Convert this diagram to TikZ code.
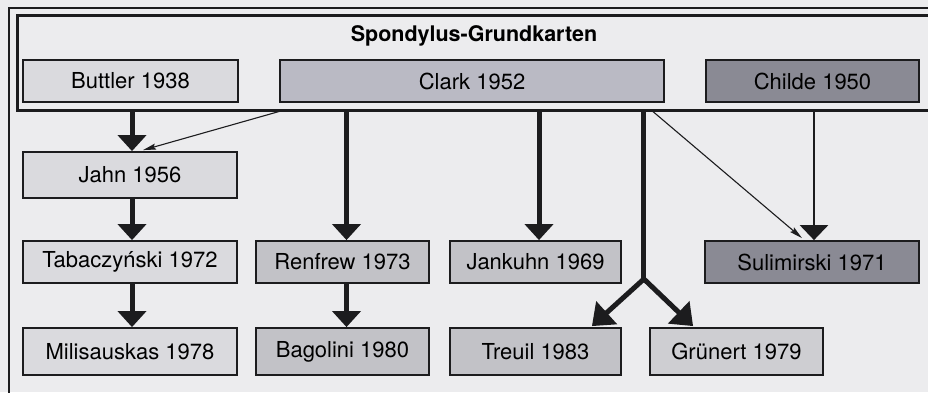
\documentclass[tikz,border=0pt]{standalone}
\usepackage{fontspec}
\setmainfont{TeX Gyre Heros}
\usetikzlibrary{arrows.meta, positioning, calc}
\definecolor{pagebg}{RGB}{236,236,238}
\definecolor{cardlight}{RGB}{218,218,222}
\definecolor{cardmid}{RGB}{194,194,199}
\definecolor{cardclark}{RGB}{186,186,196}
\definecolor{cardpale}{RGB}{206,206,210}
\definecolor{carddark}{RGB}{138,138,148}
\definecolor{inkdark}{RGB}{28,28,30}

\begin{document}
\begin{tikzpicture}[x=1pt, y=-1pt,
  card/.style      = {draw=inkdark, line width=1.8pt, inner sep=0pt,
                      minimum height=42pt, font=\fontsize{22}{26}\selectfont},
  lightcard/.style = {card, fill=cardlight},
  midcard/.style   = {card, fill=cardmid},
  darkcard/.style  = {card, fill=carddark},
  frame/.style     = {draw=inkdark, line width=3pt},
  bigarrow/.style  = {line width=5pt, draw=inkdark,
                      -{Triangle[length=16pt, width=28pt]}},
  forkarrow/.style = {line width=5pt, draw=inkdark, line join=round,
                      -{Triangle[length=20pt, width=30pt]}},
  midarrow/.style  = {line width=2.8pt, draw=inkdark,
                      -{Triangle[length=15pt, width=28pt]}},
  thinarrow/.style = {line width=1.1pt, draw=inkdark,
                      -{Stealth[length=13pt, width=6pt, inset=2pt]}},
]
\useasboundingbox (0,0) rectangle (928,392);
\clip (0,0) rectangle (928,392);
\fill[pagebg] (0,0) rectangle (928,392);

%% outer frame (runs off the page to the right and bottom)
\coordinate (outerbl) at (9,400);
\coordinate (outertl) at (9,8);
\coordinate (outertr) at (940,8);
\draw[inkdark, line width=2.6pt] (outerbl) -- (outertl) -- (outertr);

%% ==================== TOP: Spondylus-Grundkarten ====================
\node[frame, minimum width=923pt, minimum height=95pt, inner sep=0pt] (grund) at (478.5,62.5) {};
\node[font=\fontsize{21.5}{25}\selectfont\bfseries] (titel) at (474,36) {Spondylus-Grundkarten};

\node[lightcard, minimum width=215pt] (buttler) at (130.5,81) {Buttler 1938};
\node[card, fill=cardclark, minimum width=384pt] (clark) at (472,81) {Clark 1952};
\node[darkcard, minimum width=213pt] (childe) at (812.5,81) {Childe 1950};

%% ==================== LOWER ROWS ====================
\node[lightcard, minimum width=214pt, minimum height=46pt] (jahn) at (130,175) {Jahn 1956};
\node[lightcard, minimum width=214pt] (tabaczynski) at (130,262) {Tabaczyński 1972};
\node[lightcard, minimum width=214pt, minimum height=47pt] (milisauskas) at (130,351.5) {Milisauskas 1978};

\node[midcard, minimum width=173pt] (renfrew) at (342.5,262) {Renfrew 1973};
\node[midcard, minimum width=173pt, minimum height=47pt] (bagolini) at (342.5,351.5) {Bagolini 1980};

\node[midcard, minimum width=171pt] (jankuhn) at (535.5,262) {Jankuhn 1969};
\node[midcard, minimum width=171pt, minimum height=47pt] (treuil) at (535.5,351.5) {Treuil 1983};
\node[card, fill=cardpale, minimum width=173pt, minimum height=47pt] (gruenert) at (736.5,351.5) {Grünert 1979};

\node[darkcard, minimum width=214pt] (sulimirski) at (812,262) {Sulimirski 1971};

%% ==================== CONNECTORS ====================
\coordinate (jahntop) at ($(jahn.north)+(2,0)$);
\coordinate (renfrewtop) at ($(renfrew.north)+(4,0)$);
\coordinate (jankuhntop) at ($(jankuhn.north)+(3.5,0)$);
\coordinate (forktop) at ($(clark.south east)+(-21,0)$);
\coordinate (fork) at (forktop |- 0,279);
\coordinate (childetop) at ($(sulimirski.north)+(2,0)$);

\draw[bigarrow] (jahntop |- grund.south) -- (jahntop);
\draw[thinarrow] (clark.south west |- grund.south) -- ($(jahn.north)+(13,-1)$);
\draw[bigarrow] ($(jahn.south)+(2,0)$) -- ($(tabaczynski.north)+(2,0)$);
\draw[bigarrow] ($(tabaczynski.south)+(2,0)$) -- ($(milisauskas.north)+(2,0)$);

\draw[bigarrow] (renfrewtop |- grund.south) -- (renfrewtop);
\draw[bigarrow] ($(renfrew.south)+(4,0)$) -- ($(bagolini.north)+(4,0)$);

\draw[bigarrow] (jankuhntop |- grund.south) -- (jankuhntop);

\draw[line width=5pt, draw=inkdark] (forktop |- grund.south) -- (fork);
\draw[forkarrow] (fork) -- ($(treuil.north east)+(-30,-1)$);
\draw[forkarrow] (fork) -- ($(gruenert.north west)+(44,-1)$);

\draw[thinarrow] ($(clark.south east |- grund.south)+(-12,0)$) -- ($(sulimirski.north)+(-10,-2)$);
\draw[midarrow] (childetop |- grund.south) -- (childetop);

\end{tikzpicture}
\end{document}
